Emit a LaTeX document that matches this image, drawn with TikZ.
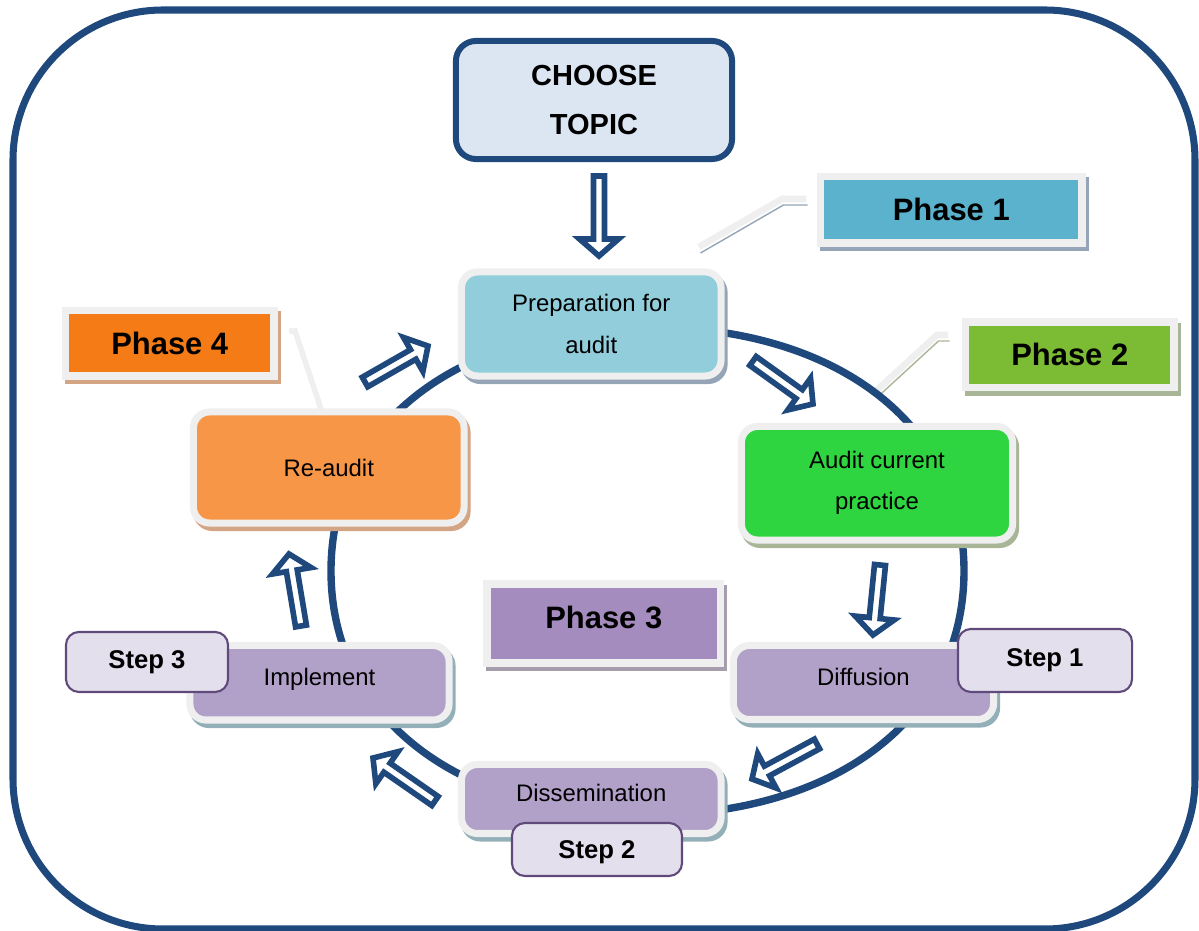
\documentclass[tikz,border=0pt]{standalone}
\usepackage{fontspec}
\setmainfont{Liberation Sans}
\usetikzlibrary{calc}
\definecolor{cNavy}{HTML}{1F497D}
\definecolor{cChoose}{HTML}{DCE6F2}
\definecolor{cPrep}{HTML}{92CDDC}
\definecolor{cAudit}{HTML}{2ED540}
\definecolor{cRe}{HTML}{F79646}
\definecolor{cPurp}{HTML}{B1A0C7}
\definecolor{cPhA}{HTML}{5BB2CC}
\definecolor{cPhB}{HTML}{7CBB34}
\definecolor{cPhC}{HTML}{A48DBE}
\definecolor{cPhD}{HTML}{F47B16}
\definecolor{cStep}{HTML}{E4DFEC}
\definecolor{cStepB}{HTML}{604A7B}
\definecolor{cWhite}{HTML}{EFEFEF}
\definecolor{shBlue}{HTML}{95A4B6}
\definecolor{shGreen}{HTML}{A9B597}
\definecolor{shTan}{HTML}{D3A585}
\definecolor{shTeal}{HTML}{93AFB7}
\definecolor{shPurp}{HTML}{A59CAC}
\tikzset{
  shadowed/.style={preaction={draw=#1, fill=#1, transform canvas={shift={(0.03cm,-0.045cm)}}}},
  rbox/.style={rectangle, rounded corners=0.16cm, draw=cWhite, line width=2pt, inner sep=0pt,
    align=center, font=\fontsize{6.8}{11.7}\selectfont},
  phasebox/.style={rectangle, draw=cWhite, line width=2.1pt, inner sep=0pt,
    font=\bfseries\fontsize{8.8}{10}\selectfont},
  stepbox/.style={rectangle, rounded corners=0.13cm, draw=cStepB, fill=cStep, line width=0.6pt,
    inner sep=0pt, font=\bfseries\fontsize{7.3}{9}\selectfont},
  callout/.style={draw=cWhite, line width=1.9pt, line join=miter,
    preaction={draw=#1, transform canvas={shift={(0.015cm,-0.06cm)}}}},
  ring/.style={draw=cNavy, line width=2.1pt},
  hollow/.style={draw=cNavy, fill=white, line width=1.6pt, line join=miter, miter limit=10,
    to path={
      let \p1=($(\tikztotarget)!0.17cm!(\tikztostart)$) in
      ($(\tikztostart)!0.055cm!90:(\tikztotarget)$) --
      ($(\p1)!0.055cm!90:(\tikztotarget)$) --
      ($(\p1)!0.195cm!90:(\tikztotarget)$) --
      (\tikztotarget) --
      ($(\p1)!0.195cm!-90:(\tikztotarget)$) --
      ($(\p1)!0.055cm!-90:(\tikztotarget)$) --
      ($(\tikztostart)!0.055cm!-90:(\tikztotarget)$) -- cycle
    }}
}
\begin{document}
\begin{tikzpicture}[x=0.01cm, y=-0.01cm]
\useasboundingbox (0,0) rectangle (1199,931);
% outer frame
\draw[cNavy, line width=2pt, rounded corners=1.5cm] (13,10) rectangle (1195,929);

% callout lines
\coordinate (c1a) at (699,247); \coordinate (c1b) at (782,199); \coordinate (c1c) at (806,199);
\coordinate (c2a) at (876,391); \coordinate (c2b) at (937,335); \coordinate (c2c) at (948,335);
\coordinate (c4a) at (289,331); \coordinate (c4b) at (295,331); \coordinate (c4c) at (322,412);
\draw[callout=shBlue] (c1a) -- (c1b) -- (c1c);
\draw[callout=shGreen] (c2a) -- (c2b) -- (c2c);
\draw[draw=cWhite, line width=1.6pt, line join=miter,
      preaction={draw=shTan, transform canvas={shift={(0.02cm,-0.015cm)}}}] (c4a) -- (c4b) -- (c4c);

% ring
\draw[ring] (964,571) .. controls (964,424.6) and (837.4,327) .. (647.5,327)
  .. controls (457.6,327) and (331,424.6) .. (331,571)
  .. controls (331,717.4) and (457.6,815) .. (647.5,815)
  .. controls (837.4,815) and (964,717.4) .. (964,571) -- cycle;

% main boxes
\node[rectangle, rounded corners=0.2cm, draw=cNavy, line width=1.7pt, fill=cChoose,
      minimum width=2.76cm, minimum height=1.18cm, inner sep=0pt, align=center,
      font=\bfseries\fontsize{8.25}{14.2}\selectfont] (choose) at (594,100) {CHOOSE\\TOPIC};
\node[rbox, fill=cPrep, shadowed=shBlue, minimum width=2.595cm, minimum height=1.04cm]
      (prep) at (591.25,324) {Preparation for\\audit};
\node[rbox, fill=cAudit, shadowed=shGreen, minimum width=2.71cm, minimum height=1.135cm]
      (audit) at (877,483.25) {Audit current\\practice};
\node[rbox, fill=cRe, shadowed=shTan, minimum width=2.705cm, minimum height=1.11cm]
      (reaudit) at (328.75,467.5) {Re-audit};
\node[rbox, fill=cPurp, shadowed=shTeal, minimum width=2.6cm, minimum height=0.74cm, text depth=3.4pt]
      (diff) at (863.5,682.5) {Diffusion};
\node[rbox, fill=cPurp, shadowed=shTeal, minimum width=2.59cm, minimum height=0.745cm, text depth=3.4pt]
      (impl) at (319.5,682.75) {Implement};
\node[rbox, fill=cPurp, shadowed=shTeal, minimum width=2.595cm, minimum height=0.69cm, text depth=3.4pt]
      (diss) at (591.25,799) {Dissemination};

% phase labels
\node[phasebox, fill=cPhA, shadowed=shBlue, minimum width=2.615cm, minimum height=0.665cm]
      (ph1) at (951.25,209.75) {Phase 1};
\node[phasebox, fill=cPhB, shadowed=shGreen, minimum width=2.085cm, minimum height=0.655cm]
      (ph2) at (1069.75,354.75) {Phase 2};
\node[phasebox, fill=cPhC, shadowed=shPurp, minimum width=2.335cm, minimum height=0.79cm, text depth=3.6pt]
      (ph3) at (603.75,623.5) {Phase 3};
\node[phasebox, fill=cPhD, shadowed=shTan, minimum width=2.085cm, minimum height=0.655cm]
      (ph4) at (169.75,343.25) {Phase 4};

% step labels
\node[stepbox, minimum width=1.74cm, minimum height=0.63cm] (st1) at (1045,660.5) {Step 1};
\node[stepbox, minimum width=1.70cm, minimum height=0.53cm, text height=6.9pt, text depth=1.6pt] (st2) at (597,849.5) {Step 2};
\node[stepbox, minimum width=1.62cm, minimum height=0.60cm] (st3) at (147,662) {Step 3};

% hollow arrows
\coordinate (a1s) at (599,176);  \coordinate (a1e) at (599,256);
\coordinate (a2s) at (753,361);  \coordinate (a2e) at (813,404);
\coordinate (a3s) at (880,565);  \coordinate (a3e) at (873,635);
\coordinate (a4s) at (817,744);  \coordinate (a4e) at (752,779);
\coordinate (a5s) at (435,801);  \coordinate (a5e) at (373,758);
\coordinate (a6s) at (301,626);  \coordinate (a6e) at (289,554);
\coordinate (a7s) at (365,382);  \coordinate (a7e) at (428,346);
\draw[hollow] (a1s) to (a1e);
\draw[hollow] (a2s) to (a2e);
\draw[hollow] (a3s) to (a3e);
\draw[hollow] (a4s) to (a4e);
\draw[hollow] (a5s) to (a5e);
\draw[hollow] (a6s) to (a6e);
\draw[hollow] (a7s) to (a7e);
\end{tikzpicture}
\end{document}
